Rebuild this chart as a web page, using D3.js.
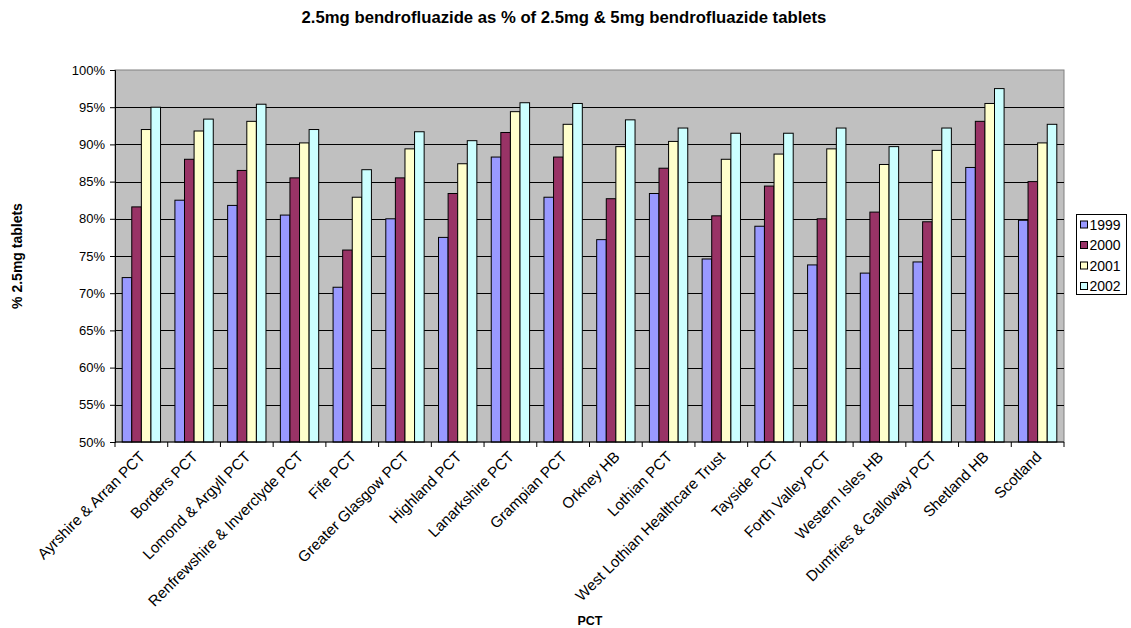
<!DOCTYPE html>
<html>
<head>
<meta charset="utf-8">
<style>
  body { margin: 0; background: #fff; }
  svg text { font-family: "Liberation Sans", Arial, sans-serif; }
</style>
</head>
<body>
<svg width="1131" height="628"></svg>
<script src="https://d3js.org/d3.v7.min.js"></script>
<script>
var categories = ["Ayrshire & Arran PCT", "Borders PCT", "Lomond & Argyll PCT",
  "Renfrewshire & Inverclyde PCT", "Fife PCT", "Greater Glasgow PCT", "Highland PCT",
  "Lanarkshire PCT", "Grampian PCT", "Orkney HB", "Lothian PCT",
  "West Lothian Healthcare Trust", "Tayside PCT", "Forth Valley PCT", "Western Isles HB",
  "Dumfries & Galloway PCT", "Shetland HB", "Scotland"];
var years = ["1999", "2000", "2001", "2002"];
var v1999 = [72.1, 82.5, 81.8, 80.5, 70.8, 80.0, 77.5, 88.3, 82.9, 77.2, 83.4, 74.6, 79.0, 73.8, 72.7, 74.2, 86.9, 79.8];
var v2000 = [81.6, 88.0, 86.5, 85.5, 75.8, 85.5, 83.4, 91.6, 88.3, 82.7, 86.8, 80.4, 84.4, 80.0, 80.9, 79.6, 93.1, 85.0];
var v2001 = [92.0, 91.8, 93.1, 90.2, 82.9, 89.4, 87.4, 94.4, 92.7, 89.7, 90.4, 88.0, 88.7, 89.4, 87.3, 89.2, 95.5, 90.2];
var v2002 = [95.0, 93.4, 95.4, 92.0, 86.6, 91.7, 90.5, 95.6, 95.5, 93.3, 92.2, 91.5, 91.5, 92.2, 89.7, 92.2, 97.5, 92.7];
var yTicks = [50, 55, 60, 65, 70, 75, 80, 85, 90, 95, 100];
var colors = ["#9999FF", "#993366", "#FFFFCC", "#CCFFFF"];
var series = [v1999, v2000, v2001, v2002];

var svg = d3.select("svg");
var pLeft = 115, pRight = 1064, pTop = 70, pBottom = 442;

var x = d3.scaleBand().domain(categories).range([pLeft, pRight]);
var bw = x.bandwidth() / 5.5;
var xs = d3.scaleBand().domain(years).range([bw * 0.75, x.bandwidth() - bw * 0.75]);
var y = d3.scaleLinear().domain([50, 100]).range([pBottom, pTop]);

// plot background
svg.append("rect")
    .attr("x", pLeft).attr("y", pTop)
    .attr("width", pRight - pLeft).attr("height", pBottom - pTop)
    .attr("fill", "#C0C0C0").attr("stroke", "#808080").attr("stroke-width", 1);

// gridlines
svg.append("g").selectAll("line")
    .data(yTicks.slice(1, -1))
    .enter().append("line")
    .attr("x1", pLeft).attr("x2", pRight)
    .attr("y1", function(d) { return Math.round(y(d)) + 0.5; })
    .attr("y2", function(d) { return Math.round(y(d)) + 0.5; })
    .attr("stroke", "#000").attr("stroke-width", 1);

// bars
var groups = svg.append("g").selectAll("g")
    .data(categories)
    .enter().append("g")
    .attr("transform", function(d) { return "translate(" + x(d) + ",0)"; });

groups.selectAll("rect")
    .data(function(d, i) { return series.map(function(s, j) { return { year: years[j], v: s[i], c: colors[j] }; }); })
    .enter().append("rect")
    .attr("x", function(d) { return xs(d.year); })
    .attr("width", xs.bandwidth())
    .attr("y", function(d) { return y(d.v); })
    .attr("height", function(d) { return pBottom - y(d.v); })
    .attr("fill", function(d) { return d.c; })
    .attr("stroke", "#000").attr("stroke-width", 1);

// y axis
var yAxis = svg.append("g")
    .attr("transform", "translate(" + pLeft + ",0)")
    .call(d3.axisLeft(y).tickValues(yTicks).tickSize(5).tickPadding(5)
      .tickFormat(function(d) { return d + "%"; }));
yAxis.select(".domain").attr("stroke", "#000");
yAxis.selectAll(".tick line").attr("stroke", "#000");
yAxis.selectAll("text").style("font-size", "13px").style("font-family", "Liberation Sans, Arial, sans-serif").attr("fill", "#000");

// x axis
var xAxis = svg.append("g")
    .attr("transform", "translate(0," + pBottom + ")");
xAxis.append("line").attr("x1", pLeft).attr("x2", pRight).attr("stroke", "#000");
xAxis.selectAll(".tk")
    .data(categories.concat(["end"]))
    .enter().append("line")
    .attr("x1", function(d, i) { return pLeft + i * x.step(); })
    .attr("x2", function(d, i) { return pLeft + i * x.step(); })
    .attr("y1", 0).attr("y2", 5).attr("stroke", "#000");
xAxis.selectAll("text")
    .data(categories)
    .enter().append("text")
    .attr("transform", function(d) {
      return "translate(" + (x(d) + x.bandwidth() / 2 + 1) + ",12) rotate(-45)";
    })
    .attr("text-anchor", "end")
    .attr("dy", "0.35em")
    .style("font-size", "15.2px")
    .text(function(d) { return d; });

// titles
svg.append("text")
    .attr("x", 564).attr("y", 23)
    .attr("text-anchor", "middle")
    .style("font-size", "16.7px").style("font-weight", "bold")
    .text("2.5mg bendrofluazide as % of 2.5mg & 5mg bendrofluazide tablets");
svg.append("text")
    .attr("x", 590).attr("y", 625)
    .attr("text-anchor", "middle")
    .style("font-size", "12.5px").style("font-weight", "bold")
    .text("PCT");
svg.append("text")
    .attr("transform", "translate(22,256) rotate(-90)")
    .attr("text-anchor", "middle")
    .style("font-size", "14px").style("font-weight", "bold")
    .text("% 2.5mg tablets");

// legend
var lg = svg.append("g").attr("transform", "translate(1076.5,214.5)");
lg.append("rect").attr("width", 50).attr("height", 80)
    .attr("fill", "#fff").attr("stroke", "#000");
var li = lg.selectAll(".li").data(years).enter().append("g")
    .attr("transform", function(d, i) { return "translate(4," + (10.5 + i * 20.5) + ")"; });
li.append("rect").attr("x", 0).attr("y", -4).attr("width", 7).attr("height", 7)
    .attr("fill", function(d, i) { return colors[i]; }).attr("stroke", "#000");
li.append("text").attr("x", 9).attr("y", 0).attr("dy", "0.35em")
    .style("font-size", "14px").text(function(d) { return d; });
</script>
</body>
</html>
